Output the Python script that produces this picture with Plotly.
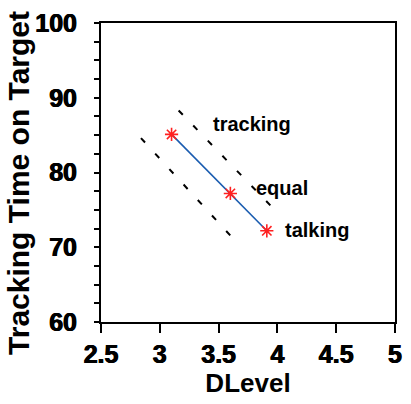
import plotly.graph_objects as go

# Data
dlevel = [3.10, 3.60, 3.91]
tracking_time = [85.1, 77.2, 72.2]
point_labels = ["tracking", "equal", "talking"]
label_x = [3.78, 4.04, 4.34]
label_y = [86.45, 77.95, 72.35]
upper_band_x = [3.16, 4.02]
upper_band_y = [88.3, 74.3]
lower_band_x = [2.84, 3.68]
lower_band_y = [84.6, 70.2]
x_ticks = [2.5, 3, 3.5, 4, 4.5, 5]
x_tick_text = ["2.5", "3", "3.5", "4", "4.5", "5"]
y_ticks = [60, 70, 80, 90, 100]
y_tick_text = ["60", "70", "80", "90", "100"]

FONT = "Liberation Sans, Arial, Helvetica, sans-serif"
HEAVY = "0.5px 0px 0px black, -0.5px 0px 0px black"


def b(s):
    return "<b>" + s + "</b>"


fig = go.Figure()
dash_line = dict(color="black", width=2, dash="6px,15px")
fig.add_trace(go.Scatter(x=upper_band_x, y=upper_band_y, mode="lines", line=dash_line, showlegend=False))
fig.add_trace(go.Scatter(x=lower_band_x, y=lower_band_y, mode="lines", line=dash_line, showlegend=False))
fig.add_trace(go.Scatter(x=dlevel, y=tracking_time, mode="lines",
                         line=dict(color="#1a5cb0", width=1.6), showlegend=False))
fig.add_trace(go.Scatter(x=dlevel, y=tracking_time, mode="markers",
                         marker=dict(symbol="asterisk-open", size=11, color="#ff2020",
                                     line=dict(color="#ff2020", width=1.6)),
                         showlegend=False))

for lx, ly, t in zip(label_x, label_y, point_labels):
    fig.add_annotation(x=lx, y=ly, text=b(t), showarrow=False,
                       font=dict(family=FONT, size=20, color="black"))

# y-axis title placed as a rotated annotation to match the reference position
fig.add_annotation(xref="paper", yref="paper", x=-0.279, y=0.465,
                   xanchor="center", yanchor="middle", textangle=-90,
                   text=b("Tracking Time on Target"), showarrow=False,
                   font=dict(family=FONT, size=30, color="black"))

fig.update_layout(
    width=411, height=404,
    margin=dict(l=101, r=9, t=21, b=82),
    plot_bgcolor="white", paper_bgcolor="white",
    font=dict(family=FONT, color="black"),
)
fig.update_xaxes(
    range=[2.5, 5], tickvals=x_ticks, ticktext=[b(t) for t in x_tick_text],
    ticks="outside", ticklen=9, tickwidth=1.5, tickcolor="black",
    showline=True, linewidth=2, linecolor="black", mirror=True,
    showgrid=False, zeroline=False,
    tickfont=dict(family=FONT, size=25, color="black", weight="bold", shadow=HEAVY),
    title=dict(text=b("DLevel"), font=dict(family=FONT, size=26, color="black"), standoff=6),
)
fig.update_yaxes(
    range=[60, 100], tickvals=y_ticks, ticktext=[b(t) for t in y_tick_text],
    ticks="outside", ticklen=5, tickwidth=1.5, tickcolor="black",
    minor=dict(dtick=2.5, ticks="outside", ticklen=5, tickwidth=1.5, tickcolor="black", showgrid=False),
    showline=True, linewidth=2, linecolor="black", mirror=True,
    showgrid=False, zeroline=False,
    tickfont=dict(family=FONT, size=25, color="black", weight="bold", shadow=HEAVY),
    ticklabelstandoff=12,
)

fig.write_html("out.html")
